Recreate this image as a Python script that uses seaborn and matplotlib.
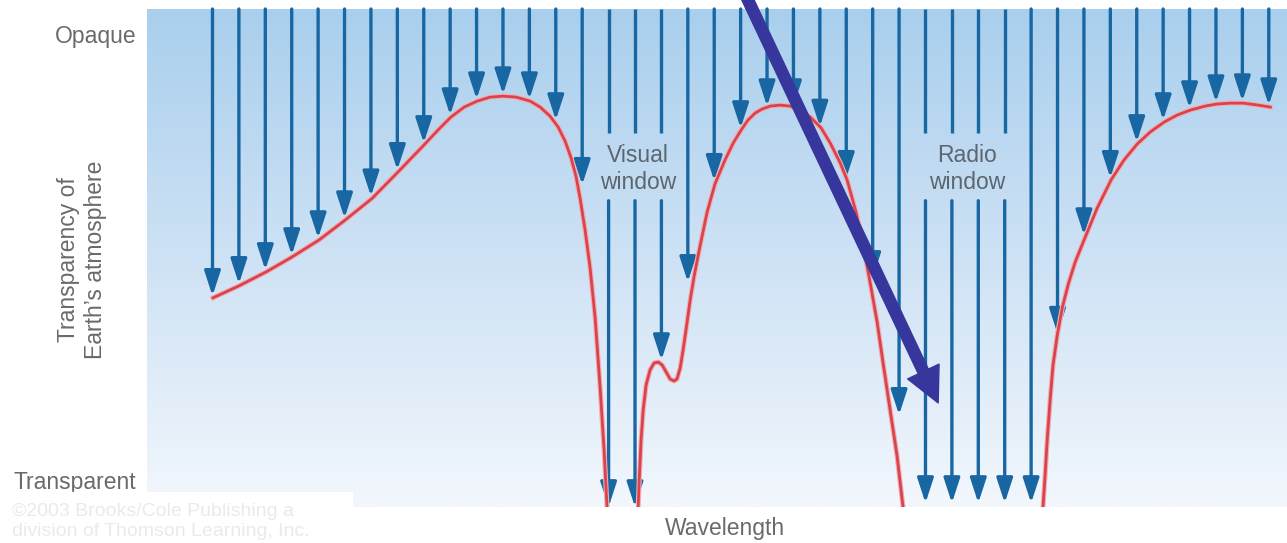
import numpy as np
import pandas as pd
import seaborn as sns
import matplotlib.pyplot as plt
import matplotlib.patheffects as pe
from matplotlib.colors import LinearSegmentedColormap
from matplotlib.patches import Rectangle

# incoming radiation, one arrow per wavelength bin (arbitrary units),
# tip = how far down the atmosphere it gets (100 = opaque top, 0 = ground)
arrow_x = [0, 1, 2, 3, 4, 5, 6, 7, 8, 9, 10, 11, 12, 13, 14, 15, 16, 17, 18, 19, 20,
           21, 22, 23, 24, 25, 26, 27, 28, 29, 30, 31, 32, 33, 34, 35, 36, 37, 38, 39, 40]
arrow_tip = [42.4, 44.8, 47.6, 50.6, 54.0, 58.0, 62.4, 67.7, 73.1, 78.7,
             81.9, 82.9, 81.9, 77.7, 64.7, 0.0, 0.0, 29.5, 45.2, 65.5,
             76.1, 80.5, 80.5, 76.4, 66.1, 46.0, 18.5, 0.8, 0.8, 0.8,
             0.8, 0.8, 34.8, 54.6, 66.1, 73.3, 77.7, 80.1, 81.3, 81.5, 80.7]
broken = [15, 16, 17, 27, 28, 29, 30]   # arrows cut by the window labels

# transparency curve, three pieces
curve_a_x = [0.02, 1.0, 2.03, 3.01, 4.03, 5.02, 6.05, 7.03, 8.01, 8.54, 9.03, 9.53,
             10.02, 10.51, 11.0, 11.5, 12.03, 12.41, 12.78, 13.09, 13.35, 13.58, 13.77,
             13.92, 14.11, 14.3, 14.49, 14.68, 14.83, 14.94]
curve_a_y = [42.0, 44.4, 47.2, 50.2, 53.6, 57.6, 62.0, 67.3, 72.7, 75.7, 78.3, 80.3,
             81.5, 82.3, 82.5, 82.3, 81.5, 80.3, 78.5, 76.3, 73.5, 70.1, 66.3,
             62.0, 55.6, 48.0, 38.0, 23.9, 11.4, 0.0]
curve_b_x = [16.12, 16.16, 16.23, 16.31, 16.42, 16.57, 16.72, 16.88, 17.03, 17.18, 17.33,
             17.48, 17.59, 17.71, 17.82, 17.94, 18.09, 18.24, 18.47, 18.73, 19.03, 19.41,
             19.72, 20.02, 20.28, 20.55, 20.81, 21.12, 21.5, 21.88, 22.26, 22.64, 23.05,
             23.39, 23.77, 24.03, 24.37, 24.64, 24.9, 25.17, 25.39, 25.66, 25.92, 26.15]
curve_b_y = [0.0, 5.4, 13.5, 19.5, 24.5, 27.5, 28.9, 29.1, 28.5, 27.1, 25.7,
             25.3, 25.7, 27.9, 31.5, 35.9, 41.6, 46.4, 52.6, 59.2, 64.9, 69.7,
             73.1, 75.7, 77.7, 79.1, 79.9, 80.5, 80.7, 80.5, 79.7, 78.3, 76.1,
             73.1, 69.1, 65.7, 59.2, 52.6, 45.2, 37.1, 29.1, 19.5, 10.4, 0.0]
curve_c_x = [31.45, 31.53, 31.61, 31.72, 31.83, 31.99, 32.18, 32.41, 32.67, 33.05, 33.5,
             34.03, 34.52, 35.02, 35.51, 36.04, 36.53, 37.03, 37.59, 38.01, 38.54, 39.03,
             39.6, 40.06]
curve_c_y = [0.0, 6.4, 13.5, 21.5, 28.5, 34.5, 40.0, 44.8, 49.2, 54.2, 60.0,
             65.7, 69.7, 72.9, 75.3, 77.3, 78.7, 79.7, 80.5, 80.9, 81.1, 81.1,
             80.7, 80.3]

# big highlight arrow (start above the frame, tip in the radio window)
big_start = (20.1, 103.8)
big_end = (27.48, 20.9)

curve = pd.concat([
    pd.DataFrame({'x': curve_a_x, 'y': curve_a_y, 'seg': 'a'}),
    pd.DataFrame({'x': curve_b_x, 'y': curve_b_y, 'seg': 'b'}),
    pd.DataFrame({'x': curve_c_x, 'y': curve_c_y, 'seg': 'c'}),
])

plt.rcParams['font.family'] = ['Liberation Sans', 'DejaVu Sans']
W, H = 1287, 543
fig = plt.figure(figsize=(W / 100, H / 100), dpi=100)
ax = fig.add_axes([147 / W, (H - 507) / H, (W - 147) / W, 498 / H])
xmin, xmax = -2.48, 40.69

# sky gradient
sky = LinearSegmentedColormap.from_list('sky', ['#f2f7fc', '#cee2f5', '#a9cfed'])
ax.imshow(np.linspace(1, 0, 256)[:, None], cmap=sky, extent=[xmin, xmax, 0, 100],
          aspect='auto', zorder=0)

blue = '#1866a2'
for x, tip in zip(arrow_x, arrow_tip):
    top = 100
    if x in broken:
        ax.plot([x, x], [100, 75], color=blue, lw=2.4, solid_capstyle='butt', zorder=2)
        top = 61.5
    ax.annotate('', xy=(x, tip), xytext=(x, top),
                arrowprops=dict(arrowstyle='-|>,head_length=15,head_width=4.9',
                                mutation_scale=1, color=blue, lw=2.4,
                                shrinkA=0, shrinkB=0), zorder=2)

sns.lineplot(data=curve, x='x', y='y', units='seg', estimator=None, sort=False,
             color='#d9434e', lw=2.0, ax=ax, zorder=3,
             path_effects=[pe.Stroke(linewidth=3.6, foreground='#f2aeb2'), pe.Normal()])

ax.annotate('', xy=big_end, xytext=big_start, annotation_clip=False,
            arrowprops=dict(arrowstyle='simple,head_width=25,head_length=25,tail_width=8',
                            mutation_scale=1, color='#37369c', shrinkA=0, shrinkB=0),
            zorder=5)

lab = dict(color='#5c6670', fontsize=16.5, ha='center', va='center', linespacing=1.2)
ax.text(16.12, 67.9, 'Visual\nwindow', **lab, zorder=4)
ax.text(28.58, 67.9, 'Radio\nwindow', **lab, zorder=4)

ax.set_xlim(xmin, xmax)
ax.set_ylim(0, 100)
ax.axis('off')

def fx(px):
    return px / W

def fy(py):
    return 1 - py / H

grey = '#6a6a6a'
fig.text(fx(137), fy(36), 'Opaque', color=grey, fontsize=16.5, ha='right', va='center')
fig.text(fx(136), fy(483), 'Transparent', color=grey, fontsize=16.5, ha='right', va='center')
fig.text(fx(82), fy(260), 'Transparency of\nEarth\u2019s atmosphere', color=grey,
         fontsize=16.5, rotation=90, ha='center', va='center', linespacing=1.2)
fig.text(fx(725), fy(528), 'Wavelength', color=grey, fontsize=16.5, ha='center', va='center')

# faded credit box in the lower left
fig.add_artist(Rectangle((fx(10), 0), fx(342), 51 / H, transform=fig.transFigure,
                         color='white', zorder=6))
fig.text(fx(12), fy(512), '\u00a92003 Brooks/Cole Publishing a', color='#eaeaea',
         fontsize=14, ha='left', va='center', zorder=7)
fig.text(fx(12), fy(532), 'division of Thomson Learning, Inc.', color='#eaeaea',
         fontsize=14, ha='left', va='center', zorder=7)

fig.savefig('out.png', dpi=100)
